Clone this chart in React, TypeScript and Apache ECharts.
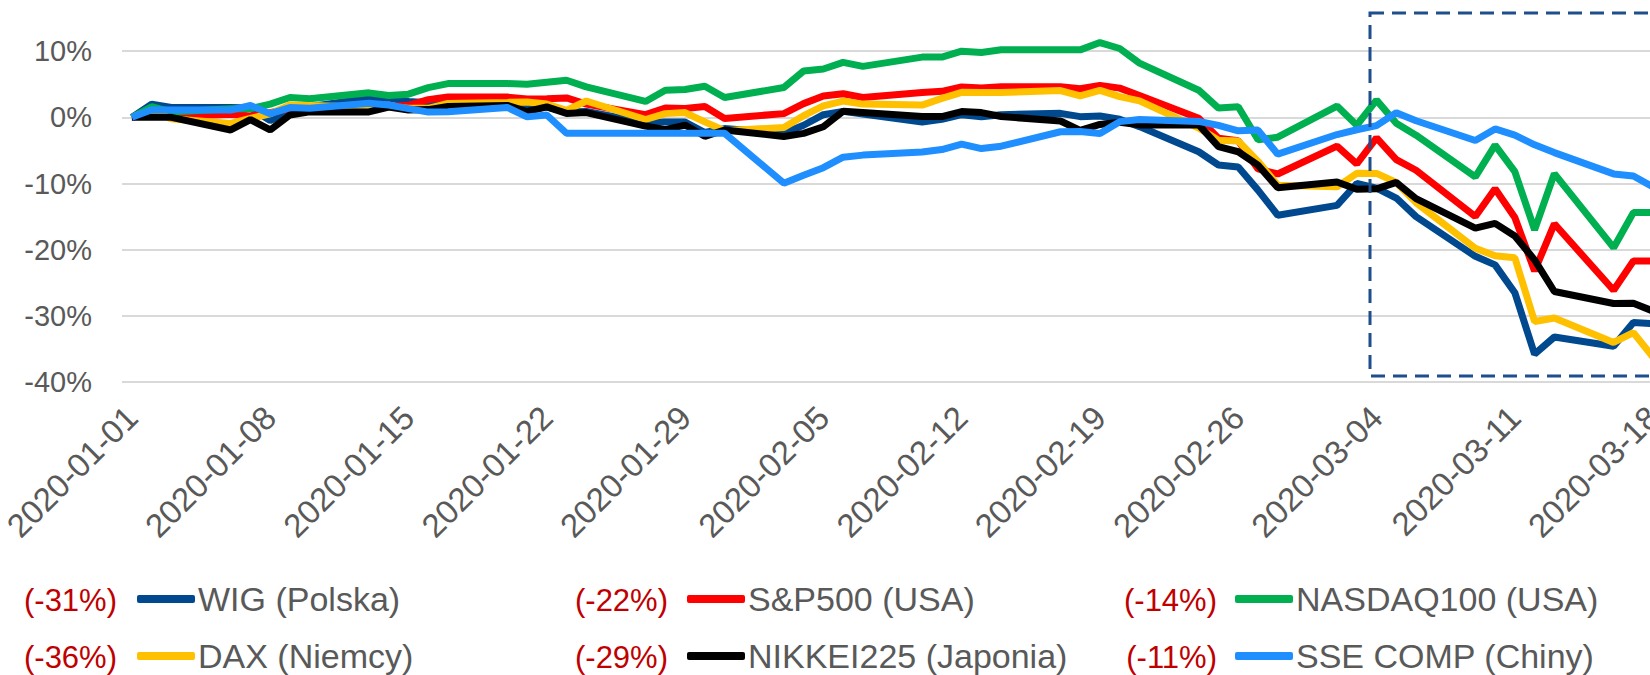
import React, { useEffect, useRef } from 'react';
import * as echarts from 'echarts';

// Trading days (weekdays) shown on the chart; the axis runs over every calendar day.
const tradingDays = [
  '2020-01-01', '2020-01-02', '2020-01-03', '2020-01-06', '2020-01-07', '2020-01-08', '2020-01-09', '2020-01-10',
  '2020-01-13', '2020-01-14', '2020-01-15', '2020-01-16', '2020-01-17', '2020-01-20', '2020-01-21', '2020-01-22',
  '2020-01-23', '2020-01-24', '2020-01-27', '2020-01-28', '2020-01-29', '2020-01-30', '2020-01-31', '2020-02-03',
  '2020-02-04', '2020-02-05', '2020-02-06', '2020-02-07', '2020-02-10', '2020-02-11', '2020-02-12', '2020-02-13',
  '2020-02-14', '2020-02-17', '2020-02-18', '2020-02-19', '2020-02-20', '2020-02-21', '2020-02-24', '2020-02-25',
  '2020-02-26', '2020-02-27', '2020-02-28', '2020-03-02', '2020-03-03', '2020-03-04', '2020-03-05', '2020-03-06',
  '2020-03-09', '2020-03-10', '2020-03-11', '2020-03-12', '2020-03-13', '2020-03-16', '2020-03-17', '2020-03-18',
];

const axisStart = '2020-01-01';
const axisEnd = '2020-03-18';

const wig = [0, 2.0, 1.5, 1.5, 1.4, -0.5, 0.8, 1.6, 2.9, 2.9, 2.4, 2.2, 2.4, 2.1, 1.4, 1.6, 0.8, 0.9, -0.8, -0.7, -0.7, -2.3, -1.7, -2.4, -1.2, 0.4, 0.9, 0.5, -0.7, -0.3, 0.4, 0.1, 0.4, 0.6, 0.1, 0.2, -0.3, -1.4, -5.2, -7.2, -7.5, -11.0, -14.8, -13.3, -10.0, -10.7, -12.2, -15.0, -21.0, -22.3, -26.5, -35.8, -33.2, -34.6, -31.0, -31.2];
const sp500 = [0, 0.84, 0.13, 0.48, 0.2, 0.69, 1.36, 1.07, 1.77, 1.62, 1.81, 2.66, 3.06, 3.06, 2.78, 2.82, 2.93, 2.0, 0.4, 1.41, 1.32, 1.64, -0.16, 0.56, 2.07, 3.22, 3.56, 3.0, 3.75, 3.93, 4.6, 4.43, 4.62, 4.62, 4.32, 4.81, 4.41, 3.31, -0.15, -3.17, -3.54, -7.8, -8.56, -4.35, -7.04, -3.12, -6.4, -8.0, -14.99, -10.79, -15.15, -23.22, -16.09, -26.14, -21.72, -21.72];
const nasdaq100 = [0, 1.6, 0.8, 1.3, 1.3, 2.0, 3.0, 2.8, 3.7, 3.3, 3.5, 4.5, 5.1, 5.1, 5.0, 5.3, 5.6, 4.6, 2.4, 4.1, 4.2, 4.7, 3.0, 4.5, 7.0, 7.3, 8.3, 7.7, 9.1, 9.1, 10.0, 9.8, 10.2, 10.2, 10.2, 11.3, 10.4, 8.2, 4.1, 1.4, 1.6, -3.4, -3.0, 1.7, -1.2, 2.6, -0.9, -2.7, -9.0, -4.2, -8.2, -17.0, -8.5, -19.7, -14.4, -14.4];
const dax = [0, 1.03, -0.23, -0.92, -0.17, 0.54, 1.86, 1.77, 1.53, 1.57, 1.38, 1.36, 2.09, 2.26, 2.32, 2.01, 1.05, 2.47, -0.33, 0.56, 0.72, -0.69, -2.02, -1.54, 0.25, 1.73, 2.46, 2.0, 1.85, 2.86, 3.78, 3.75, 3.74, 4.04, 3.26, 4.08, 3.13, 2.49, -1.61, -3.46, -3.58, -6.65, -10.25, -10.5, -8.46, -8.47, -9.84, -12.89, -19.8, -20.93, -21.21, -30.85, -30.32, -34.02, -32.53, -36.28];
const nikkei225 = [0, 0, 0, -1.91, -0.34, -1.91, 0.35, 0.82, 0.82, 1.56, 1.1, 1.17, 1.63, 1.8, 0.88, 1.58, 0.59, 0.72, -1.32, -1.86, -1.17, -2.87, -1.91, -2.89, -2.42, -1.42, 0.92, 0.72, 0.12, 0.12, 0.87, 0.72, 0.13, -0.56, -1.96, -1.08, -0.75, -1.14, -1.14, -4.44, -5.2, -7.22, -10.63, -9.77, -10.88, -10.81, -9.84, -12.29, -16.73, -16.02, -17.93, -21.55, -26.32, -28.13, -28.09, -29.29];
const sseComp = [0, 1.15, 1.1, 1.09, 1.79, 0.55, 1.47, 1.38, 2.14, 1.86, 1.31, 0.79, 0.83, 1.5, 0.07, 0.35, -2.41, -2.41, -2.41, -2.41, -2.41, -2.41, -2.41, -9.95, -8.75, -7.61, -6.02, -5.71, -5.23, -4.87, -4.04, -4.72, -4.36, -2.18, -2.14, -2.45, -0.65, -0.34, -0.62, -1.21, -2.04, -1.93, -5.57, -2.6, -1.88, -1.26, 0.71, -0.51, -3.5, -1.75, -2.68, -4.15, -5.33, -8.55, -8.87, -10.54];

const seriesNames = ['WIG (Polska)', 'S&P500 (USA)', 'NASDAQ100 (USA)', 'DAX (Niemcy)', 'NIKKEI225 (Japonia)', 'SSE COMP (Chiny)'];
const seriesValues = [wig, sp500, nasdaq100, dax, nikkei225, sseComp];
const seriesColors = ['#00498F', '#FF0000', '#00B050', '#FFC000', '#000000', '#1F8FFF'];
const periodChange = [-31, -22, -14, -36, -29, -11];

const yMin = -40;
const yMax = 20;
const yStep = 10;

const FONT = "'Liberation Sans', Arial, sans-serif";

function calendarDays(start: string, end: string): string[] {
  const out: string[] = [];
  const d = new Date(start + 'T00:00:00Z');
  const e = new Date(end + 'T00:00:00Z');
  while (d.getTime() <= e.getTime()) {
    out.push(d.toISOString().slice(0, 10));
    d.setUTCDate(d.getUTCDate() + 1);
  }
  return out;
}

export default function App() {
  const ref = useRef<HTMLDivElement>(null);

  useEffect(() => {
    if (!ref.current) return;
    const chart = echarts.init(ref.current, undefined, { renderer: 'svg' });
    const categories = calendarDays(axisStart, axisEnd);

    const series = seriesNames.map((name, i) => {
      const byDay: Record<string, number> = {};
      tradingDays.forEach((day, k) => {
        byDay[day] = seriesValues[i][k];
      });
      return {
        name,
        type: 'line',
        data: categories.map((c) => (c in byDay ? byDay[c] : null)),
        connectNulls: true,
        symbol: 'none',
        showSymbol: false,
        lineStyle: { width: 7, color: seriesColors[i] },
        itemStyle: { color: seriesColors[i] },
        emphasis: { disabled: true },
        z: 2 + i,
      };
    });

    const colIcon = [137, 687, 1235];
    const colNumRight = [117, 668, 1217];
    const rowY = [600, 657];

    const legends = seriesNames.map((name, i) => ({
      data: [name],
      left: colIcon[i % 3],
      top: rowY[Math.floor(i / 3)] - 18,
      orient: 'horizontal',
      icon: 'roundRect',
      itemWidth: 58,
      itemHeight: 8,
      itemGap: 0,
      padding: 0,
      selectedMode: false,
      textStyle: { fontSize: 34, color: '#595959', fontFamily: FONT, padding: [0, 0, 0, -2] },
    }));

    const numTexts = periodChange.map((v, i) => ({
      type: 'text',
      x: colNumRight[i % 3],
      y: rowY[Math.floor(i / 3)],
      style: {
        text: '(' + v + '%)',
        fill: '#C00000',
        font: '31px ' + FONT,
        textAlign: 'right',
        textVerticalAlign: 'middle',
        align: 'right',
        verticalAlign: 'middle',
      },
    }));

    chart.setOption({
      animation: false,
      backgroundColor: '#FFFFFF',
      grid: { left: 122, right: -13, top: -15, bottom: 293, containLabel: false, outerBoundsMode: 'none' },
      xAxis: {
        type: 'category',
        data: categories,
        boundaryGap: true,
        axisLine: { show: false },
        axisTick: { show: false },
        splitLine: { show: false },
        axisLabel: {
          interval: 6,
          rotate: 45,
          margin: 30,
          fontSize: 33,
          color: '#595959',
          fontFamily: FONT,
        },
      },
      yAxis: {
        type: 'value',
        min: yMin,
        max: yMax,
        interval: yStep,
        axisLine: { show: false },
        axisTick: { show: false },
        axisLabel: {
          formatter: (v: number) => Math.round(v) + '%',
          fontSize: 29,
          color: '#595959',
          fontFamily: FONT,
          margin: 30,
          showMaxLabel: false,
        },
        splitLine: { lineStyle: { color: '#D9D9D9', width: 2 } },
      },
      legend: legends,
      series,
      graphic: [
        ...numTexts,
        {
          type: 'rect',
          shape: { x: 1370, y: 13, width: 420, height: 363 },
          style: { fill: 'none', stroke: '#1F4E8C', lineWidth: 3, lineDash: [14, 8] },
          z: 100,
        },
      ],
    });

    return () => {
      chart.dispose();
    };
  }, []);

  return (
    <div style={{ position: 'fixed', left: 0, top: 0, width: 1650, height: 675, overflow: 'hidden', background: '#FFFFFF' }}>
      <div ref={ref} style={{ width: 1650, height: 675 }} />
    </div>
  );
}
